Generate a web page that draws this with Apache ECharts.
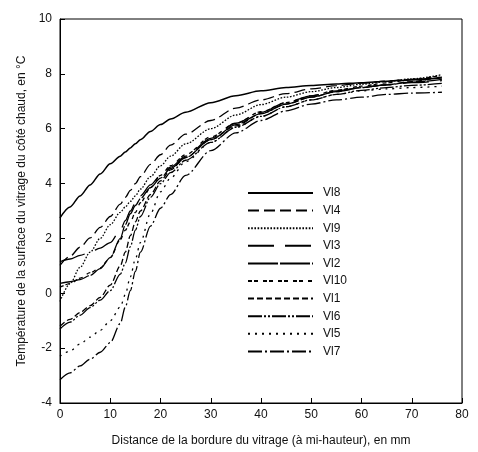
<!DOCTYPE html>
<html>
<head>
<meta charset="utf-8">
<script src="https://cdn.jsdelivr.net/npm/echarts@6/dist/echarts.min.js"></script>
<style>html,body{margin:0;padding:0;background:#fff;}#c{width:478px;height:452px;}</style>
</head>
<body>
<div id="c"></div>
<script>
const xs   = [0, 2, 4, 6, 8, 10, 12, 13, 14, 15, 16, 18, 20, 22, 25, 30, 35, 40, 45, 50, 55, 60, 65, 70, 76];
const vi8  = [2.75, 3.15, 3.55, 3.95, 4.35, 4.72, 5.0, 5.15, 5.3, 5.45, 5.6, 5.9, 6.15, 6.35, 6.6, 6.95, 7.2, 7.38, 7.5, 7.58, 7.63, 7.68, 7.73, 7.78, 7.85];
const vi4  = [1.02, 1.35, 1.68, 2.02, 2.4, 2.8, 3.25, 3.5, 3.75, 4.0, 4.25, 4.7, 5.05, 5.4, 5.8, 6.3, 6.75, 7.05, 7.28, 7.45, 7.57, 7.66, 7.74, 7.8, 7.88];
const vi9  = [-0.3, 0.35, 0.95, 1.5, 2.0, 2.5, 2.95, 3.15, 3.35, 3.55, 3.8, 4.25, 4.65, 5.0, 5.45, 6.0, 6.5, 6.88, 7.15, 7.35, 7.5, 7.62, 7.72, 7.82, 7.97];
const vi3  = [1.15, 1.25, 1.38, 1.5, 1.65, 1.85, 2.3, 2.65, 3.0, 3.3, 3.55, 3.95, 4.3, 4.6, 5.0, 5.65, 6.2, 6.6, 6.95, 7.2, 7.38, 7.5, 7.6, 7.68, 7.75];
const vi2  = [0.36, 0.42, 0.5, 0.65, 0.9, 1.3, 2.0, 2.5, 2.9, 3.2, 3.45, 3.85, 4.2, 4.55, 4.95, 5.6, 6.15, 6.55, 6.9, 7.15, 7.35, 7.5, 7.6, 7.7, 7.8];
const vi10 = [0.22, 0.35, 0.55, 0.75, 0.93, 1.3, 1.95, 2.3, 2.6, 2.95, 3.3, 3.85, 4.3, 4.65, 5.05, 5.7, 6.2, 6.62, 6.95, 7.2, 7.4, 7.55, 7.67, 7.8, 7.95];
const vi1  = [-1.2, -0.95, -0.7, -0.45, -0.15, 0.3, 1.0, 1.5, 2.1, 2.6, 3.0, 3.6, 4.1, 4.5, 4.95, 5.6, 6.1, 6.55, 6.9, 7.15, 7.35, 7.5, 7.6, 7.72, 7.9];
const vi6  = [-1.3, -1.05, -0.8, -0.52, -0.25, 0.1, 0.7, 1.1, 1.7, 2.3, 2.8, 3.5, 4.0, 4.4, 4.85, 5.5, 6.05, 6.45, 6.8, 7.05, 7.25, 7.4, 7.5, 7.58, 7.65];
const vi5  = [-2.3, -2.1, -1.85, -1.6, -1.35, -1.0, -0.5, -0.05, 0.6, 1.25, 1.85, 2.9, 3.7, 4.2, 4.8, 5.5, 6.05, 6.45, 6.8, 7.05, 7.25, 7.38, 7.45, 7.5, 7.55];
const vi7  = [-3.15, -2.9, -2.65, -2.4, -2.15, -1.8, -1.1, -0.5, 0.1, 0.8, 1.5, 2.45, 3.1, 3.6, 4.3, 5.2, 5.85, 6.3, 6.65, 6.9, 7.05, 7.15, 7.25, 7.3, 7.33];
const names = ['Vl8','Vl4','Vl9','Vl3','Vl2','Vl10','Vl1','Vl6','Vl5','Vl7'];
const values = [vi8, vi4, vi9, vi3, vi2, vi10, vi1, vi6, vi5, vi7];
const dashes = ['solid', [11,5], [1.6,1.6], [26,11], [30,2], [4,2,4,5], [6,3], [14,2,2,2,2,2], [2,5], [14,3,2,3]];

const chart = echarts.init(document.getElementById('c'), null, {renderer:'canvas'});
const font = 'Liberation Sans, Arial, sans-serif';
chart.setOption({
  animation: false,
  backgroundColor: '#fff',
  textStyle: {fontFamily: font},
  grid: {left: 60, right: 16, top: 19, bottom: 45, show: true, borderColor: '#000', borderWidth: 1},
  xAxis: {
    type: 'value', min: 0, max: 80, interval: 10,
    name: 'Distance de la bordure du vitrage (à mi-hauteur), en mm',
    nameLocation: 'middle', nameGap: 32,
    nameTextStyle: {fontSize: 12, color: '#111', fontFamily: font},
    axisLine: {show: true, onZero: false, lineStyle: {color: '#000', width: 1}},
    axisTick: {inside: true, length: 5, lineStyle: {color: '#000'}},
    axisLabel: {fontSize: 12, color: '#111', margin: 6, fontFamily: font},
    splitLine: {show: false}
  },
  yAxis: {
    type: 'value', min: -4, max: 10, interval: 2,
    name: 'Température de la surface du vitrage du côté chaud, en °C',
    nameLocation: 'middle', nameGap: 32,
    nameTextStyle: {fontSize: 12, color: '#111', fontFamily: font},
    axisLine: {show: true, onZero: false, lineStyle: {color: '#000', width: 1}},
    axisTick: {inside: true, length: 5, lineStyle: {color: '#000'}},
    axisLabel: {fontSize: 12, color: '#111', margin: 8, fontFamily: font},
    splitLine: {show: false}
  },
  legend: {
    orient: 'vertical', left: 247, top: 187, padding: 0,
    itemWidth: 65, itemHeight: 14, itemGap: 5.6,
    itemStyle: {opacity: 0},
    textStyle: {fontSize: 12, color: '#111', fontFamily: font, padding: [0,0,0,5]},
    data: names
  },
  series: names.map((n, k) => ({
    name: n, type: 'line', symbol: 'none', smooth: 0.3, smoothMonotone: 'x',
    lineStyle: {color: '#000', width: k === 0 ? 1.5 : 1.3, type: dashes[k]},
    itemStyle: {color: '#000'},
    data: xs.map((x, i) => [x, values[k][i]])
  }))
});
</script>
</body>
</html>
